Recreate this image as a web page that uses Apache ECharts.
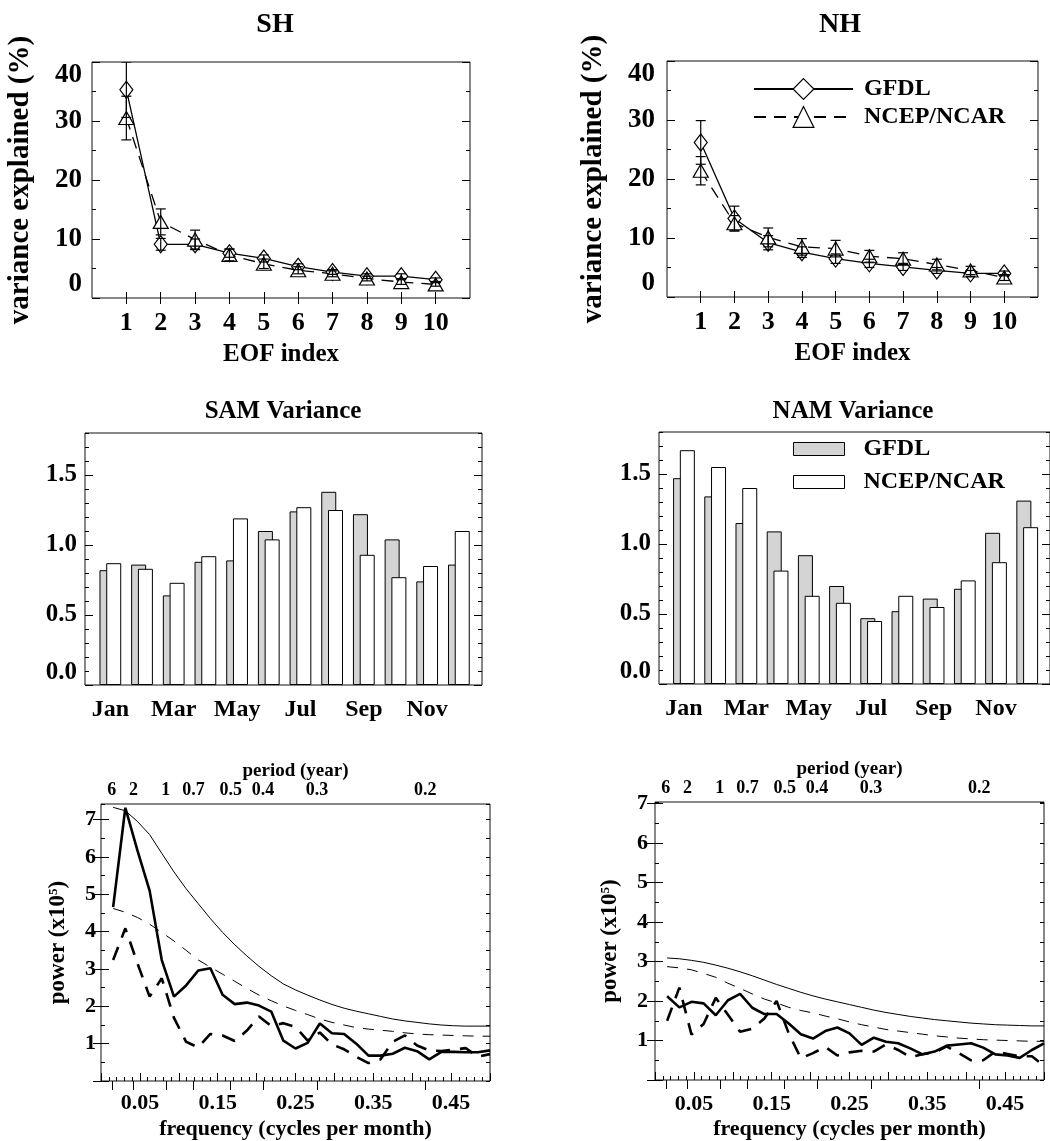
<!DOCTYPE html>
<html><head><meta charset="utf-8">
<script src="https://cdn.jsdelivr.net/npm/echarts@6/dist/echarts.min.js"></script>
<style>html,body{margin:0;padding:0;background:#fff}#c{width:1050px;height:1141px}</style>
</head><body><div id="c"></div>
<script>
// ---------- data ----------
const eofIndex = [1, 2, 3, 4, 5, 6, 7, 8, 9, 10];
const shGfdl    = [35.3, 9.1, 9.1, 7.6, 6.7, 5.3, 4.4, 3.7, 3.7, 3.1];
const shGfdlErr = [4.7, 1.0, 0.9, 0.7, 0.6, 0.5, 0.4, 0.4, 0.4, 0.3];
const shNcep    = [30.5, 12.9, 9.9, 7.3, 5.8, 4.7, 4.1, 3.3, 2.7, 2.3];
const shNcepErr = [3.7, 2.2, 1.6, 1.0, 0.8, 0.6, 0.5, 0.4, 0.4, 0.3];
const nhGfdl    = [26.2, 13.3, 9.2, 7.6, 6.5, 5.7, 5.1, 4.5, 4.0, 4.0];
const nhGfdlErr = [3.7, 2.1, 1.2, 0.9, 0.8, 0.7, 0.6, 0.5, 0.5, 0.4];
const nhNcep    = [21.4, 12.5, 10.1, 8.5, 8.2, 6.9, 6.5, 5.5, 4.5, 3.3];
const nhNcepErr = [2.4, 1.3, 1.6, 1.4, 1.4, 1.0, 1.0, 0.9, 0.7, 0.5];
const eofYTicks = [0, 10, 20, 30, 40];

const months = ['Jan','Feb','Mar','Apr','May','Jun','Jul','Aug','Sep','Oct','Nov','Dec'];
const monthIdx = [1,2,3,4,5,6,7,8,9,10,11,12];
const monthLabelIdx = [1,3,5,7,9,11];
const samGfdl = [0.82,0.86,0.64,0.88,0.89,1.10,1.24,1.38,1.22,1.04,0.74,0.86];
const samNcep = [0.87,0.83,0.73,0.92,1.19,1.04,1.27,1.25,0.93,0.77,0.85,1.10];
const namGfdl = [1.47,1.34,1.15,1.09,0.92,0.70,0.47,0.52,0.61,0.68,1.08,1.31];
const namNcep = [1.67,1.55,1.40,0.81,0.63,0.58,0.45,0.63,0.55,0.74,0.87,1.12];
const barYTicks = [0, 0.5, 1.0, 1.5];

const freq = [0.0156,0.0313,0.0469,0.0625,0.0781,0.0938,0.1094,0.125,0.1406,0.1563,0.1719,0.1875,0.2031,0.2188,0.2344,0.25,
              0.2656,0.2813,0.2969,0.3125,0.3281,0.3438,0.3594,0.375,0.3906,0.4063,0.4219,0.4375,0.4531,0.4688,0.4844,0.5];
const shPowGfdl = [4.66,7.32,6.17,5.10,3.24,2.26,2.56,2.96,3.02,2.31,2.06,2.10,2.02,1.86,1.08,0.87,
                   1.02,1.54,1.28,1.26,1.00,0.68,0.68,0.73,0.89,0.80,0.58,0.78,0.78,0.77,0.77,0.82];
const shPowNcep = [3.24,4.09,3.15,2.26,2.75,1.69,1.05,0.90,1.26,1.22,1.07,1.35,1.73,1.47,1.55,1.45,
                   1.08,1.30,0.98,0.85,0.65,0.48,0.58,1.05,1.22,0.95,0.82,0.80,0.84,0.88,0.65,0.72];
const shRedGfdl = [7.33,7.24,6.95,6.60,6.10,5.60,5.15,4.75,4.35,3.98,3.65,3.35,3.07,2.82,2.60,2.44,
                   2.30,2.17,2.05,1.95,1.87,1.80,1.73,1.66,1.61,1.57,1.53,1.50,1.48,1.47,1.47,1.47];
const shRedNcep = [4.62,4.52,4.38,4.20,3.98,3.75,3.50,3.24,3.05,2.86,2.67,2.48,2.30,2.15,2.01,1.89,
                   1.78,1.66,1.57,1.50,1.43,1.39,1.36,1.33,1.29,1.26,1.24,1.23,1.22,1.21,1.20,1.20];
const nhPowGfdl = [2.12,1.84,1.98,1.94,1.64,2.02,2.18,1.83,1.67,1.67,1.43,1.16,1.05,1.24,1.33,1.18,
                   0.89,1.07,0.97,0.93,0.80,0.65,0.72,0.87,0.90,0.93,0.82,0.65,0.62,0.56,0.76,0.93];
const nhPowNcep = [1.50,2.34,1.15,1.42,2.08,1.65,1.22,1.30,1.56,2.00,1.18,0.55,0.68,0.84,0.62,0.70,
                   0.74,0.72,0.90,0.76,0.58,0.65,0.70,0.85,0.68,0.50,0.50,0.72,0.66,0.60,0.60,0.36];
const nhRedGfdl = [3.09,3.07,3.03,2.98,2.91,2.83,2.74,2.64,2.53,2.42,2.32,2.22,2.13,2.05,1.98,1.91,
                   1.84,1.77,1.71,1.66,1.61,1.57,1.53,1.50,1.47,1.44,1.42,1.40,1.39,1.38,1.37,1.37];
const nhRedNcep = [2.87,2.84,2.79,2.70,2.60,2.45,2.32,2.18,2.05,1.95,1.84,1.76,1.70,1.62,1.55,1.47,
                   1.40,1.34,1.28,1.24,1.20,1.16,1.12,1.09,1.06,1.04,1.02,1.01,1.00,0.99,0.98,0.98];
const freqLabelVals = [0.05, 0.15, 0.25, 0.35, 0.45];
const periodYears  = [6, 2, 1, 0.7, 0.5, 0.4, 0.3, 0.2];
const periodLabels = ['6','2','1','0.7','0.5','0.4','0.3','0.2'];
const specYTicks  = [0,1,2,3,4,5,6,7];
const specYLabels = [1,2,3,4,5,6,7];

// ---------- helpers ----------
const FONT = '"Liberation Serif", "Times New Roman", serif';
const T = (size, extra) => Object.assign({fontFamily: FONT, fontWeight: 'bold', fontSize: size, color: '#000'}, extra || {});
const periodFreq = periodYears.map(p => 1 / (12 * p));
function periodLabel(v) {
  for (let i = 0; i < periodFreq.length; i++) if (Math.abs(periodFreq[i] - v) < 1e-6) return periodLabels[i];
  return '';
}
function tick(len, custom) {
  const t = {show: true, inside: true, length: len, lineStyle: {color: '#000', width: 1}};
  if (custom) t.customValues = custom;
  return t;
}
const xAxes = [], yAxes = [], series = [];
function addX(o) { xAxes.push(Object.assign({type: 'value', splitLine: {show: false}, axisLine: {show: false}, axisLabel: {show: false}}, o)); return xAxes.length - 1; }
function addY(o) { yAxes.push(Object.assign({type: 'value', splitLine: {show: false}, axisLine: {show: false}, axisLabel: {show: false}}, o)); return yAxes.length - 1; }

function errSeries(xi, yi, vals, errs) {
  return {
    type: 'custom', xAxisIndex: xi, yAxisIndex: yi, silent: true, z: 4, clip: true,
    data: eofIndex.map((x, i) => [x, vals[i] - errs[i], vals[i] + errs[i]]),
    encode: {x: 0, y: [1, 2]},
    renderItem: function (params, api) {
      const x = api.value(0);
      const p1 = api.coord([x, api.value(2)]);
      const p2 = api.coord([x, api.value(1)]);
      const w = 5, st = {stroke: '#000', lineWidth: 1.2};
      return {type: 'group', children: [
        {type: 'line', shape: {x1: p1[0], y1: p1[1], x2: p2[0], y2: p2[1]}, style: st},
        {type: 'line', shape: {x1: p1[0] - w, y1: p1[1], x2: p1[0] + w, y2: p1[1]}, style: st},
        {type: 'line', shape: {x1: p2[0] - w, y1: p2[1], x2: p2[0] + w, y2: p2[1]}, style: st}
      ]};
    }
  };
}

function eofPanel(g, yLabelMargin, yNameGap, gfdl, gErr, ncep, nErr) {
  const xi = addX({gridIndex: g, min: 0, max: 11, position: 'bottom', axisTick: tick(6, eofIndex),
    axisLabel: T(26, {show: true, customValues: eofIndex, margin: 12}),
    name: 'EOF index', nameLocation: 'middle', nameGap: 44, nameTextStyle: T(25)});
  addX({gridIndex: g, min: 0, max: 11, position: 'top', axisTick: tick(6, eofIndex)});
  const yi = addY({gridIndex: g, min: 0, max: 40, position: 'left', axisTick: tick(8, eofYTicks),
    axisLabel: T(27, {show: true, customValues: eofYTicks, margin: yLabelMargin, verticalAlignMaxLabel: 'top', verticalAlignMinLabel: 'bottom'}),
    name: 'variance explained (%)', nameLocation: 'middle', nameGap: yNameGap, nameTextStyle: T(29)});
  addY({gridIndex: g, min: 0, max: 40, interval: 5, position: 'left', axisTick: tick(4)});
  addY({gridIndex: g, min: 0, max: 40, position: 'right', axisTick: tick(8, eofYTicks)});
  addY({gridIndex: g, min: 0, max: 40, interval: 5, position: 'right', axisTick: tick(4)});
  series.push({name: 'GFDL', type: 'line', xAxisIndex: xi, yAxisIndex: yi, data: eofIndex.map((x, i) => [x, gfdl[i]]),
    symbol: 'diamond', symbolSize: [13, 17], showAllSymbol: true, silent: true, z: 3,
    lineStyle: {color: '#000', width: 1.3}, itemStyle: {color: '#fff', borderColor: '#000', borderWidth: 1.2}});
  series.push({name: 'NCEP/NCAR', type: 'line', xAxisIndex: xi, yAxisIndex: yi, data: eofIndex.map((x, i) => [x, ncep[i]]),
    symbol: 'triangle', symbolSize: [15, 13], showAllSymbol: true, silent: true, z: 3,
    lineStyle: {color: '#000', width: 1.3, type: [12, 8]}, itemStyle: {color: '#fff', borderColor: '#000', borderWidth: 1.2}});
  series.push(errSeries(xi, yi, gfdl, gErr));
  series.push(errSeries(xi, yi, ncep, nErr));
}

function barPanel(g, gfdl, ncep) {
  const xi = addX({gridIndex: g, min: 0.2, max: 12.73, position: 'bottom', axisTick: tick(5, monthIdx),
    axisLabel: T(24, {show: true, customValues: monthLabelIdx, margin: 13, formatter: v => months[Math.round(v) - 1]})});
  const yi = addY({gridIndex: g, min: 0, max: 1.8, position: 'left', axisTick: tick(8, barYTicks),
    axisLabel: T(25, {show: true, customValues: barYTicks, margin: 8, formatter: v => v.toFixed(1), verticalAlignMinLabel: 'bottom'})});
  addY({gridIndex: g, min: 0, max: 1.8, interval: 0.1, position: 'left', axisTick: tick(4)});
  addY({gridIndex: g, min: 0, max: 1.8, position: 'right', axisTick: tick(8, barYTicks)});
  addY({gridIndex: g, min: 0, max: 1.8, interval: 0.1, position: 'right', axisTick: tick(4)});
  series.push({name: 'GFDL bars', type: 'bar', xAxisIndex: xi, yAxisIndex: yi, data: monthIdx.map((m, i) => [m, gfdl[i]]),
    barWidth: 15, barGap: '-55%', silent: true, itemStyle: {color: '#d4d4d4', borderColor: '#000', borderWidth: 1}});
  series.push({name: 'NCEP/NCAR bars', type: 'bar', xAxisIndex: xi, yAxisIndex: yi, data: monthIdx.map((m, i) => [m, ncep[i]]),
    barWidth: 15, barGap: '-55%', silent: true, itemStyle: {color: '#fff', borderColor: '#000', borderWidth: 1}});
}

function specPanel(g, ymax, o, pg, pn, rg, rn) {
  const xi = addX({gridIndex: g, min: 0, max: 0.5, interval: 0.01, position: 'bottom', axisTick: tick(4),
    axisLabel: T(22, {show: true, customValues: freqLabelVals, margin: o.xm, formatter: v => v.toFixed(2)}),
    name: 'frequency (cycles per month)', nameLocation: 'middle', nameGap: o.xng, nameTextStyle: T(22)});
  addX({gridIndex: g, min: 0, max: 0.5, interval: 0.05, position: 'bottom', axisTick: tick(8)});
  addX({gridIndex: g, min: 0, max: 0.5, position: 'top', axisTick: tick(9, periodFreq),
    axisLabel: T(18, {show: true, customValues: periodFreq, margin: 5, formatter: v => periodLabel(v)}),
    name: 'period (year)', nameLocation: 'middle', nameGap: 22, nameTextStyle: T(19)});
  const yi = addY({gridIndex: g, min: 0, max: ymax, position: 'left', axisTick: tick(8, specYTicks),
    axisLabel: T(22, {show: true, customValues: specYLabels, margin: o.ym}),
    name: 'power (x10{sup|5})', nameLocation: 'middle', nameGap: o.yng,
    nameTextStyle: T(23, {rich: {sup: {fontFamily: FONT, fontWeight: 'bold', fontSize: 13, color: '#000', verticalAlign: 'top', padding: [0, 0, 10, 0]}}})});
  addY({gridIndex: g, min: 0, max: ymax, interval: 0.5, position: 'left', axisTick: tick(4)});
  addY({gridIndex: g, min: 0, max: ymax, position: 'right', axisTick: tick(8, specYTicks)});
  addY({gridIndex: g, min: 0, max: ymax, interval: 0.5, position: 'right', axisTick: tick(4)});
  const L = (name, ys, w, dash) => ({name: name, type: 'line', xAxisIndex: xi, yAxisIndex: yi, silent: true,
    data: freq.map((f, i) => [f, ys[i]]), symbol: 'none', lineStyle: {color: '#000', width: w, type: dash || 'solid'}});
  series.push(L('red noise GFDL ' + g, rg, 1));
  series.push(L('red noise NCEP ' + g, rn, 1, [11, 9]));
  series.push(L('spectrum NCEP ' + g, pn, 2.6, [14, 10]));
  series.push(L('spectrum GFDL ' + g, pg, 2.6));
}

eofPanel(0, 10, 57, shGfdl, shGfdlErr, shNcep, shNcepErr);
eofPanel(1, 12, 59, nhGfdl, nhGfdlErr, nhNcep, nhNcepErr);
barPanel(2, samGfdl, samNcep);
barPanel(3, namGfdl, namNcep);
specPanel(4, 7.42, {xm: 11, xng: 37, ym: 5, yng: 31}, shPowGfdl, shPowNcep, shRedGfdl, shRedNcep);
specPanel(5, 7.04, {xm: 13, xng: 38, ym: 7, yng: 33}, nhPowGfdl, nhPowNcep, nhRedGfdl, nhRedNcep);

const gridBox = {show: true, borderColor: '#111', borderWidth: 1, backgroundColor: 'transparent', containLabel: false};
const txt = (s, x, y, size) => ({type: 'text', x: x, y: y, silent: true,
  style: {text: s, font: 'bold ' + size + 'px ' + FONT, fill: '#000', textAlign: 'center', textVerticalAlign: 'middle', verticalAlign: 'middle'}});

const option = {
  animation: false,
  backgroundColor: '#fff',
  grid: [
    Object.assign({left: 92, top: 62, width: 378, height: 236}, gridBox),
    Object.assign({left: 667, top: 61, width: 371, height: 236}, gridBox),
    Object.assign({left: 85, top: 433, width: 397, height: 252}, gridBox),
    Object.assign({left: 659, top: 432, width: 397, height: 252}, gridBox),
    Object.assign({left: 101, top: 804, width: 389, height: 277}, gridBox),
    Object.assign({left: 655, top: 802, width: 389, height: 278}, gridBox)
  ],
  xAxis: xAxes,
  yAxis: yAxes,
  legend: [
    {data: ['GFDL', 'NCEP/NCAR'], orient: 'vertical', left: 753, top: 77, itemWidth: 99, itemHeight: 26, itemGap: 4, padding: 0,
     selectedMode: false, itemStyle: {borderColor: '#000', borderWidth: 1.2},
     textStyle: T(24, {padding: [0, 0, 0, 6]})},
    {data: [{name: 'GFDL bars', icon: 'rect'}, {name: 'NCEP/NCAR bars', icon: 'rect'}], formatter: n => n.replace(' bars', ''),
     orient: 'vertical', left: 793, top: 437, itemWidth: 51, itemHeight: 13, itemGap: 9, padding: 0, selectedMode: false,
     itemStyle: {borderColor: '#000', borderWidth: 1}, textStyle: T(24, {padding: [0, 0, 0, 14]})}
  ],
  graphic: [
    txt('SH', 275, 25, 28), txt('NH', 840, 25, 28),
    txt('SAM Variance', 283, 412, 25), txt('NAM Variance', 853, 412, 25)
  ],
  series: series
};
const chart = echarts.init(document.getElementById('c'), null, {renderer: 'canvas'});
chart.setOption(option);
</script>
</body></html>
